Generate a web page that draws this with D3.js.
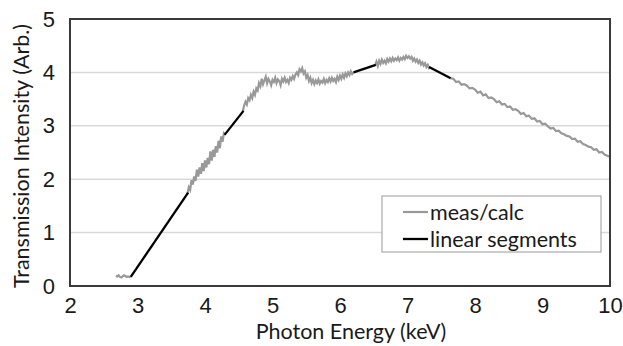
<!DOCTYPE html>
<html>
  <head>
    <meta charset="utf-8">
    <style>
      body { margin: 0; background: #fff; }
      svg { display: block; font-family: Lato, sans-serif; }
      .tick text { font-size: 22px; fill: #1a1a1a; }
      .grid line { stroke: #d9d9d9; stroke-width: 1.5; }
      .meas { fill: none; stroke: #999; stroke-width: 2.2; }
      .seg { fill: none; stroke: #000; stroke-width: 2.3; }
    </style>
  </head>
  <body>
    <script src="https://d3js.org/d3.v7.min.js"></script>
    <script>
      // measured / calculated spectrum, pieces between the fitted segments
      const measA_x0 = 2.68, measA_step = 0.02
      const measA = [0.19,0.18,0.20,0.17,0.16,0.18,0.20,0.19,0.17,0.18,0.17,0.17]

      const measB_x0 = 3.74, measB_step = 0.02
      const measB = [1.73,1.85,1.80,1.98,1.90,2.05,1.97,2.18,2.05,2.22,2.10,2.30,2.15,2.35,2.22,
                     2.40,2.28,2.52,2.35,2.55,2.42,2.62,2.50,2.72,2.58,2.80,2.70,2.86,2.83]

      const measC_x0 = 4.56, measC_step = 0.02
      const measC = [3.27,3.38,3.45,3.40,3.52,3.48,3.58,3.52,3.64,3.58,3.70,3.66,3.80,3.74,3.88,
                     3.78,3.85,3.92,3.80,3.88,3.83,3.76,3.86,3.82,3.90,3.80,3.87,3.84,3.76,3.88,
                     3.83,3.90,3.82,3.86,3.80,3.90,3.86,3.93,3.88,3.96,4.00,3.95,4.06,4.02,4.08,
                     3.98,4.02,3.90,3.95,3.84,3.90,3.80,3.86,3.78,3.85,3.80,3.87,3.79,3.84,3.81,
                     3.88,3.80,3.86,3.82,3.89,3.83,3.90,3.84,3.88,3.82,3.92,3.86,3.94,3.88,3.96,
                     3.90,3.98,3.93,4.00,3.95,4.02,3.97,4.00]

      const measD_x0 = 6.52, measD_step = 0.02
      const measD = [4.13,4.20,4.12,4.22,4.16,4.24,4.18,4.22,4.17,4.25,4.20,4.26,4.21,4.27,4.22,
                     4.26,4.23,4.28,4.22,4.27,4.24,4.29,4.25,4.31,4.27,4.30,4.26,4.29,4.22,4.26,
                     4.20,4.24,4.18,4.22,4.15,4.19,4.13,4.17,4.10,4.14,4.08,4.10]

      const measE_x0 = 7.64, measE_step = 0.04
      const measE = [3.89,3.88,3.82,3.83,3.77,3.78,3.75,3.70,3.71,3.68,3.62,3.64,3.57,3.59,3.52,
                     3.53,3.50,3.44,3.46,3.40,3.41,3.35,3.36,3.30,3.31,3.28,3.22,3.24,3.18,3.19,
                     3.13,3.14,3.08,3.09,3.03,3.04,2.99,2.95,2.96,2.90,2.91,2.86,2.84,2.81,2.80,
                     2.75,2.76,2.70,2.71,2.66,2.64,2.61,2.60,2.55,2.56,2.50,2.51,2.46,2.44,2.42]

      // linear segments: [x1, y1, x2, y2]
      const segments = [
        [2.90, 0.17, 3.75, 1.75],
        [4.29, 2.83, 4.57, 3.28],
        [6.20, 4.00, 6.53, 4.14],
        [7.32, 4.10, 7.64, 3.89]
      ]

      const xTicks = [2, 3, 4, 5, 6, 7, 8, 9, 10]
      const yTicks = [0, 1, 2, 3, 4, 5]
      const legendLabels = ["meas/calc", "linear segments"]

      const w = 623, h = 346
      const m = { left: 70, right: 13, top: 19, bottom: 60 }
      const iw = w - m.left - m.right
      const ih = h - m.top - m.bottom

      const svg = d3.select("body").append("svg")
        .attr("width", w)
        .attr("height", h)

      const x = d3.scaleLinear().domain([2, 10]).range([m.left, m.left + iw])
      const y = d3.scaleLinear().domain([0, 5]).range([m.top + ih, m.top])

      svg.append("g").attr("class", "grid")
        .selectAll("line")
        .data(yTicks.slice(1, -1))
        .enter().append("line")
          .attr("x1", m.left).attr("x2", m.left + iw)
          .attr("y1", d => y(d)).attr("y2", d => y(d))

      const toPts = (x0, step, ys) => ys.map((v, i) => [x0 + i * step, v])
      const pieces = [
        toPts(measA_x0, measA_step, measA),
        toPts(measB_x0, measB_step, measB),
        toPts(measC_x0, measC_step, measC),
        toPts(measD_x0, measD_step, measD),
        toPts(measE_x0, measE_step, measE)
      ]
      const line = d3.line().x(d => x(d[0])).y(d => y(d[1]))

      svg.selectAll("path.meas")
        .data(pieces)
        .enter().append("path")
          .attr("class", "meas")
          .attr("d", line)

      svg.selectAll("line.seg")
        .data(segments)
        .enter().append("line")
          .attr("class", "seg")
          .attr("x1", d => x(d[0])).attr("y1", d => y(d[1]))
          .attr("x2", d => x(d[2])).attr("y2", d => y(d[3]))

      // frame
      svg.append("rect")
        .attr("x", m.left).attr("y", m.top)
        .attr("width", iw).attr("height", ih)
        .attr("fill", "none")
        .attr("stroke", "#3a3a3a")
        .attr("stroke-width", 2)

      const xAxis = d3.axisBottom(x).tickValues(xTicks).tickSize(0).tickPadding(11)
        .tickFormat(d3.format("d"))
      svg.append("g")
        .attr("transform", "translate(0," + (m.top + ih) + ")")
        .call(xAxis)
        .call(g => g.select(".domain").remove())

      const yAxis = d3.axisLeft(y).tickValues(yTicks).tickSize(0).tickPadding(15)
        .tickFormat(d3.format("d"))
      svg.append("g")
        .attr("transform", "translate(" + m.left + ",0)")
        .call(yAxis)
        .call(g => g.select(".domain").remove())

      svg.append("text")
        .attr("x", x(6) + 11).attr("y", 339)
        .attr("text-anchor", "middle")
        .attr("font-size", 21.5).attr("fill", "#1a1a1a")
        .text("Photon Energy (keV)")

      svg.append("text")
        .attr("transform", "translate(29,156) rotate(-90)")
        .attr("text-anchor", "middle")
        .attr("font-size", 21.5).attr("fill", "#1a1a1a")
        .text("Transmission Intensity (Arb.)")

      // legend
      const lg = svg.append("g")
      lg.append("rect")
        .attr("x", 382).attr("y", 196)
        .attr("width", 219).attr("height", 56)
        .attr("fill", "#fff")
        .attr("stroke", "#999")
        .attr("stroke-width", 1)
      const rows = lg.selectAll("g.row")
        .data(legendLabels)
        .enter().append("g")
          .attr("transform", (d, i) => "translate(403," + (212 + i * 27) + ")")
      rows.append("line")
        .attr("class", (d, i) => i === 0 ? "meas" : "seg")
        .attr("x1", 0).attr("x2", 25)
      rows.append("text")
        .attr("x", 27).attr("y", 7.5)
        .attr("font-size", 21.5).attr("fill", "#1a1a1a")
        .text(d => d)
    </script>
  </body>
</html>
